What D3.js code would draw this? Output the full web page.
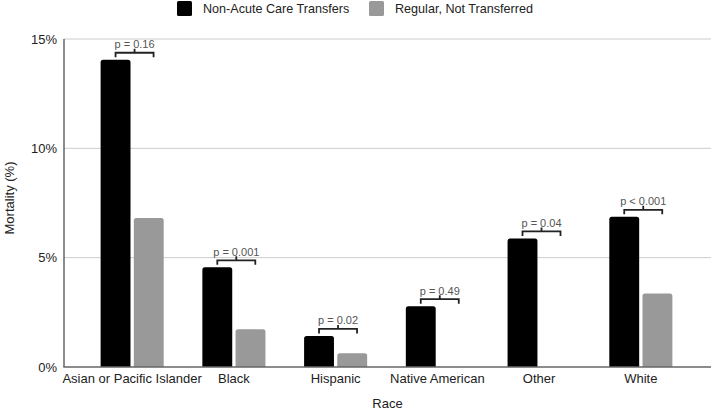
<!DOCTYPE html>
<html>
<head>
<meta charset="utf-8">
<script src="https://cdn.jsdelivr.net/npm/d3@7"></script>
<style>
  body { margin: 0; background: #fff; }
  text { font-family: "Liberation Sans", Arial, sans-serif; }
</style>
</head>
<body>
<div id="chart"></div>
<script>
var races = ["Asian or Pacific Islander", "Black", "Hispanic", "Native American", "Other", "White"];
var seriesNames = ["Non-Acute Care Transfers", "Regular, Not Transferred"];
var transferred = [14.05, 4.56, 1.42, 2.78, 5.88, 6.87];
var notTransferred = [6.81, 1.73, 0.63, 0, 0, 3.36];
var pLabels = ["p = 0.16", "p = 0.001", "p = 0.02", "p = 0.49", "p = 0.04", "p < 0.001"];
var yTicks = [0, 5, 10, 15];
var colors = ["#000000", "#999999"];

var width = 711, height = 411;
var margin = {top: 39, right: 2, bottom: 44, left: 64};

var svg = d3.select("#chart").append("svg")
  .attr("width", width).attr("height", height);

var x0 = d3.scaleBand()
  .domain(races)
  .range([margin.left, width - margin.right])
  .paddingInner(0.38)
  .paddingOuter(0.36);

var x1 = d3.scaleBand()
  .domain(seriesNames)
  .range([0, x0.bandwidth()])
  .paddingInner(0.1);

var y = d3.scaleLinear()
  .domain([0, 15])
  .range([height - margin.bottom, margin.top]);

// gridlines
svg.append("g")
  .selectAll("line")
  .data(yTicks.filter(function(d) { return d > 0; }))
  .enter().append("line")
  .attr("x1", margin.left).attr("x2", width)
  .attr("y1", function(d) { return y(d); })
  .attr("y2", function(d) { return y(d); })
  .attr("stroke", "#cccccc")
  .attr("stroke-width", 1);

// y tick labels
svg.append("g")
  .selectAll("text")
  .data(yTicks)
  .enter().append("text")
  .attr("x", margin.left - 7)
  .attr("y", function(d) { return y(d) + 4.5; })
  .attr("text-anchor", "end")
  .attr("font-size", 13)
  .attr("fill", "#222")
  .text(function(d) { return d + "%"; });

// bars
var rows = races.map(function(r, i) {
  return {race: r, vals: [transferred[i], notTransferred[i]]};
});

var roundTop = function(x, yTop, w, yBase, r) {
  var h = yBase - yTop;
  if (h <= 0) return "";
  r = Math.min(r, h, w / 2);
  return "M" + x + "," + yBase +
    "V" + (yTop + r) +
    "Q" + x + "," + yTop + " " + (x + r) + "," + yTop +
    "H" + (x + w - r) +
    "Q" + (x + w) + "," + yTop + " " + (x + w) + "," + (yTop + r) +
    "V" + yBase + "Z";
};

svg.append("g")
  .selectAll("g")
  .data(rows)
  .enter().append("g")
  .attr("transform", function(d) { return "translate(" + x0(d.race) + ",0)"; })
  .selectAll("path")
  .data(function(d) { return d.vals.map(function(v, k) { return {s: seriesNames[k], v: v, k: k}; }); })
  .enter().append("path")
  .attr("d", function(d) { return roundTop(x1(d.s), y(d.v), x1.bandwidth(), y(0), 2.5); })
  .attr("fill", function(d) { return colors[d.k]; });

// axes lines
svg.append("line")
  .attr("x1", margin.left).attr("x2", margin.left)
  .attr("y1", margin.top).attr("y2", y(0))
  .attr("stroke", "#666").attr("stroke-width", 1.5);
svg.append("line")
  .attr("x1", margin.left - 0.75).attr("x2", width)
  .attr("y1", y(0)).attr("y2", y(0))
  .attr("stroke", "#666").attr("stroke-width", 1.5);

// x category labels
svg.append("g")
  .selectAll("text")
  .data(races)
  .enter().append("text")
  .attr("x", function(d) { return x0(d) + x0.bandwidth() / 2; })
  .attr("y", y(0) + 16)
  .attr("text-anchor", "middle")
  .attr("font-size", 13)
  .attr("fill", "#222")
  .text(function(d) { return d; });

// significance brackets
var br = svg.append("g");
races.forEach(function(r, i) {
  var bx = x0(r) + x1(seriesNames[0]) + x1.bandwidth() / 2;
  var ex = bx + 38;
  var top = y(Math.max(transferred[i], notTransferred[i]));
  var hy = top - 7;
  var legY = top - 2.5;
  var mid = (bx + ex) / 2;
  br.append("path")
    .attr("d", "M" + bx + "," + legY + "V" + hy + "H" + ex + "V" + legY +
      "M" + mid + "," + hy + "V" + (hy - 4))
    .attr("fill", "none")
    .attr("stroke", "#222")
    .attr("stroke-width", 1.8);
  br.append("text")
    .attr("x", mid)
    .attr("y", hy - 4.5)
    .attr("text-anchor", "middle")
    .attr("font-size", 11)
    .attr("fill", "#555")
    .text(pLabels[i]);
});

// axis titles
svg.append("text")
  .attr("x", (margin.left + width) / 2)
  .attr("y", 408)
  .attr("text-anchor", "middle")
  .attr("font-size", 13)
  .attr("fill", "#222")
  .text("Race");

svg.append("text")
  .attr("transform", "translate(14,198) rotate(-90)")
  .attr("text-anchor", "middle")
  .attr("font-size", 13)
  .attr("fill", "#222")
  .text("Mortality (%)");

// legend
var legendX = [177, 369];
var leg = svg.append("g");
seriesNames.forEach(function(s, k) {
  leg.append("rect")
    .attr("x", legendX[k]).attr("y", 1)
    .attr("width", 15).attr("height", 15)
    .attr("rx", 1.5)
    .attr("fill", colors[k]);
  leg.append("text")
    .attr("x", legendX[k] + 26)
    .attr("y", 13)
    .attr("font-size", 12.6)
    .attr("fill", "#222")
    .text(s);
});
</script>
</body>
</html>
